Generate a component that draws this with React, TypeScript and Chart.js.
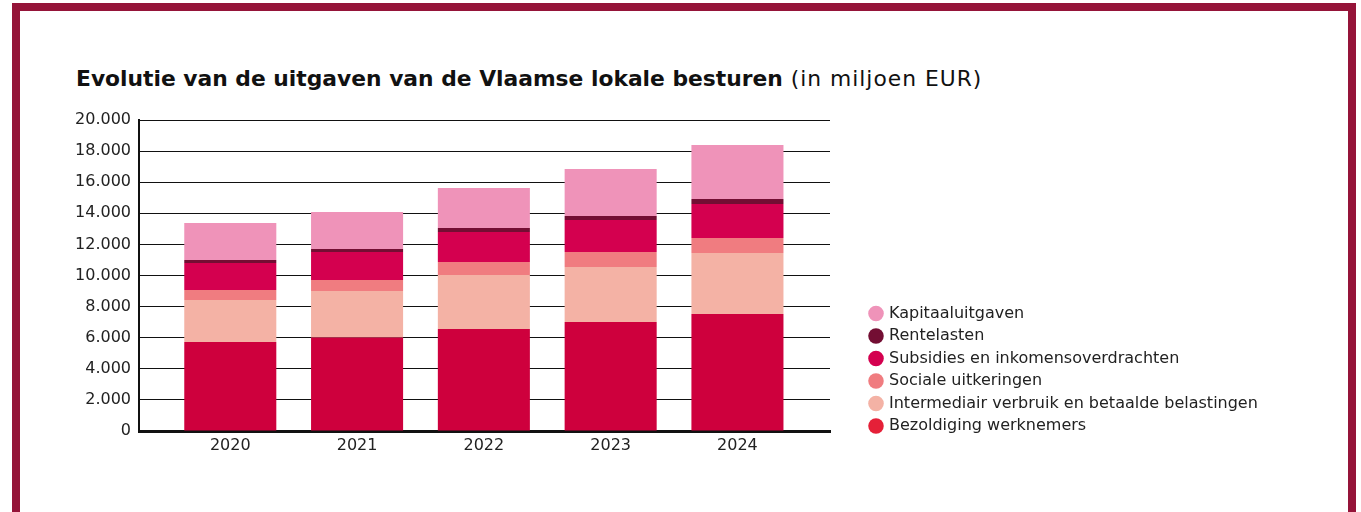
import React, { useEffect, useRef } from "react";
import { Chart, registerables } from "chart.js";

Chart.register(...registerables);

const years = [2020, 2021, 2022, 2023, 2024];
const bezoldiging = [5720, 6020, 6560, 7010, 7520];
const intermediair = [2700, 2980, 3470, 3540, 3920];
const sociale = [640, 710, 840, 960, 970];
const subsidies = [1740, 1800, 1930, 2060, 2190];
const rentelasten = [190, 190, 260, 260, 320];
const kapitaal = [2380, 2380, 2570, 3020, 3470];

const seriesNames = [
  "Bezoldiging werknemers",
  "Intermediair verbruik en betaalde belastingen",
  "Sociale uitkeringen",
  "Subsidies en inkomensoverdrachten",
  "Rentelasten",
  "Kapitaaluitgaven",
];
const seriesValues = [bezoldiging, intermediair, sociale, subsidies, rentelasten, kapitaal];
const barColors = ["#CE003D", "#F4B2A5", "#F07C80", "#D4004F", "#730E33", "#EF93B9"];
const legendColors = ["#E52038", "#F4B2A5", "#F07C80", "#D4004F", "#730E33", "#EF93B9"];

const yMin = 0;
const yMax = 20000;
const yStep = 2000;

const FONT = "'DejaVu Sans', sans-serif";
const LEGEND_W = 460;
const LEGEND_BOTTOM = 440.5;

const legendPlacePlugin = {
  id: "legendPlace",
  beforeLayout(chart: any) {
    const lg = chart.legend;
    if (lg && !lg.__patched) {
      const orig = lg.fit;
      lg.fit = function () {
        orig.call(this);
        this.width = LEGEND_W;
      };
      lg.__patched = true;
    }
  },
  afterLayout(chart: any) {
    const lg = chart.legend;
    if (lg) {
      lg.bottom = LEGEND_BOTTOM;
      lg.height = lg.bottom - lg.top;
      if (typeof lg.adjustHitBoxes === "function") lg.adjustHitBoxes();
    }
  },
};

export default function App() {
  const canvasRef = useRef<HTMLCanvasElement | null>(null);

  useEffect(() => {
    const canvas = canvasRef.current;
    if (!canvas) return;
    const chart = new Chart(canvas, {
      type: "bar",
      data: {
        datasets: seriesNames.map((name, i) => ({
          label: name,
          data: seriesValues[i].map((v, j) => ({ x: years[j], y: v })),
          backgroundColor: barColors[i],
          borderWidth: 0,
          barPercentage: 0.726,
          categoryPercentage: 1,
        })),
      },
      plugins: [legendPlacePlugin],
      options: {
        animation: false,
        responsive: false,
        devicePixelRatio: 1,
        layout: { padding: { left: 0, top: 120, bottom: 51, right: 1361 - 864.5 - LEGEND_W } },
        plugins: {
          tooltip: { enabled: false },
          legend: {
            position: "right",
            align: "end",
            reverse: true,
            maxWidth: 1000,
            labels: {
              usePointStyle: true,
              pointStyle: "circle",
              boxWidth: 10,
              boxHeight: 11,
              padding: 6.5,
              color: "#222",
              font: { family: FONT, size: 16 },
              generateLabels: (ch: any) => {
                const items = Chart.defaults.plugins.legend.labels.generateLabels(ch);
                return items.map((it: any) => ({
                  ...it,
                  fillStyle: legendColors[it.datasetIndex],
                  strokeStyle: legendColors[it.datasetIndex],
                  lineWidth: 0,
                }));
              },
            },
          },
        },
        scales: {
          x: {
            type: "linear",
            stacked: true,
            offset: false,
            min: 2019.28,
            max: 2024.73,
            afterFit: (s: any) => {
              s.height = 30;
            },
            grid: { display: false, drawTicks: false },
            border: { display: true, color: "#111", width: 3 },
            ticks: {
              stepSize: 1,
              includeBounds: false,
              autoSkip: false,
              maxRotation: 0,
              padding: 5,
              color: "#222",
              font: { family: FONT, size: 16 },
              callback: (v: any) => String(v),
            },
          },
          y: {
            stacked: true,
            min: yMin,
            max: yMax,
            afterFit: (s: any) => {
              s.width = 139;
            },
            grid: { color: "#111", lineWidth: 1, drawTicks: false },
            border: { display: true, color: "#111", width: 2 },
            ticks: {
              stepSize: yStep,
              padding: 8,
              color: "#222",
              font: { family: FONT, size: 16 },
              callback: (v: any) => Number(v).toLocaleString("nl-BE").replace(/\s/g, "."),
            },
          },
          gap: {
            type: "linear",
            position: "right",
            display: true,
            min: 0,
            max: 1,
            afterFit: (s: any) => {
              s.width = 34.5;
            },
            grid: { display: false, drawTicks: false },
            border: { display: false },
            ticks: { display: false },
          },
        },
      },
    });
    return () => chart.destroy();
  }, []);

  return (
    <div style={{ position: "fixed", left: 0, top: 0, width: 1361, height: 512, background: "#fff", overflow: "hidden" }}>
      <div
        style={{
          position: "absolute",
          left: 12,
          top: 3,
          width: 1344,
          height: 520,
          border: "8px solid #951439",
          boxSizing: "border-box",
        }}
      />
      <div
        style={{
          position: "absolute",
          left: 76,
          top: 65,
          fontFamily: FONT,
          fontSize: 21.8,
          lineHeight: "27px",
          color: "#111",
          whiteSpace: "nowrap",
        }}
      >
        <span style={{ fontWeight: 700 }}>Evolutie van de uitgaven van de Vlaamse lokale besturen</span>
        <span style={{ fontWeight: 400, letterSpacing: "1px" }}> (in miljoen EUR)</span>
      </div>
      <canvas ref={canvasRef} width={1361} height={512} style={{ position: "absolute", left: 0, top: 0 }} />
    </div>
  );
}
